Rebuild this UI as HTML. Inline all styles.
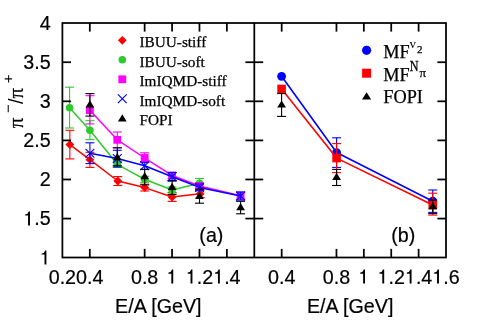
<!DOCTYPE html>
<html><head><meta charset="utf-8"><title>chart</title>
<style>html,body{margin:0;padding:0;background:#fff;}svg{display:block;will-change:transform;}text{fill:#000;}.sa{font-family:"Liberation Sans",sans-serif;stroke:#000;stroke-width:0.2px;}.se{font-family:"Liberation Serif",serif;stroke:#000;stroke-width:0.25px;}.pi{font-family:"Liberation Serif",serif;stroke:#000;stroke-width:0.25px;}.sv{font-family:"Liberation Serif",serif;}.sn{font-family:"Liberation Sans",sans-serif;}</style>
</head><body>
<svg width="478" height="320" viewBox="0 0 478 320">
<rect width="478" height="320" fill="#fff"/>
<path d="M69.85 144.60L89.90 159.70L117.80 181.00L144.70 187.60L172.10 197.00L200.20 193.80" stroke="#ff0000" stroke-width="1.5" fill="none" stroke-linejoin="round"/>
<line x1="69.85" y1="130.30" x2="69.85" y2="158.90" stroke="#ff0000" stroke-width="1.1" stroke-linecap="butt"/>
<line x1="65.35" y1="130.30" x2="74.35" y2="130.30" stroke="#ff0000" stroke-width="1.1" stroke-linecap="butt"/>
<line x1="65.35" y1="158.90" x2="74.35" y2="158.90" stroke="#ff0000" stroke-width="1.1" stroke-linecap="butt"/>
<line x1="89.90" y1="152.30" x2="89.90" y2="167.40" stroke="#ff0000" stroke-width="1.1" stroke-linecap="butt"/>
<line x1="85.40" y1="152.30" x2="94.40" y2="152.30" stroke="#ff0000" stroke-width="1.1" stroke-linecap="butt"/>
<line x1="85.40" y1="167.40" x2="94.40" y2="167.40" stroke="#ff0000" stroke-width="1.1" stroke-linecap="butt"/>
<line x1="117.80" y1="176.60" x2="117.80" y2="185.50" stroke="#ff0000" stroke-width="1.1" stroke-linecap="butt"/>
<line x1="113.30" y1="176.60" x2="122.30" y2="176.60" stroke="#ff0000" stroke-width="1.1" stroke-linecap="butt"/>
<line x1="113.30" y1="185.50" x2="122.30" y2="185.50" stroke="#ff0000" stroke-width="1.1" stroke-linecap="butt"/>
<line x1="144.70" y1="184.20" x2="144.70" y2="191.00" stroke="#ff0000" stroke-width="1.1" stroke-linecap="butt"/>
<line x1="140.20" y1="184.20" x2="149.20" y2="184.20" stroke="#ff0000" stroke-width="1.1" stroke-linecap="butt"/>
<line x1="140.20" y1="191.00" x2="149.20" y2="191.00" stroke="#ff0000" stroke-width="1.1" stroke-linecap="butt"/>
<line x1="172.10" y1="192.60" x2="172.10" y2="201.40" stroke="#ff0000" stroke-width="1.1" stroke-linecap="butt"/>
<line x1="167.60" y1="192.60" x2="176.60" y2="192.60" stroke="#ff0000" stroke-width="1.1" stroke-linecap="butt"/>
<line x1="167.60" y1="201.40" x2="176.60" y2="201.40" stroke="#ff0000" stroke-width="1.1" stroke-linecap="butt"/>
<line x1="200.20" y1="190.00" x2="200.20" y2="197.60" stroke="#ff0000" stroke-width="1.1" stroke-linecap="butt"/>
<line x1="195.70" y1="190.00" x2="204.70" y2="190.00" stroke="#ff0000" stroke-width="1.1" stroke-linecap="butt"/>
<line x1="195.70" y1="197.60" x2="204.70" y2="197.60" stroke="#ff0000" stroke-width="1.1" stroke-linecap="butt"/>
<path d="M69.85 140.20L74.25 144.60L69.85 149.00L65.45 144.60Z" fill="#ff0000"/>
<path d="M89.90 155.30L94.30 159.70L89.90 164.10L85.50 159.70Z" fill="#ff0000"/>
<path d="M117.80 176.60L122.20 181.00L117.80 185.40L113.40 181.00Z" fill="#ff0000"/>
<path d="M144.70 183.20L149.10 187.60L144.70 192.00L140.30 187.60Z" fill="#ff0000"/>
<path d="M172.10 192.60L176.50 197.00L172.10 201.40L167.70 197.00Z" fill="#ff0000"/>
<path d="M200.20 189.40L204.60 193.80L200.20 198.20L195.80 193.80Z" fill="#ff0000"/>
<path d="M69.55 107.80L89.90 130.20L117.30 164.30L144.70 179.30L172.10 190.00L199.50 183.20" stroke="#2dc92d" stroke-width="1.5" fill="none" stroke-linejoin="round"/>
<line x1="69.55" y1="87.20" x2="69.55" y2="128.00" stroke="#2dc92d" stroke-width="1.1" stroke-linecap="butt"/>
<line x1="65.05" y1="87.20" x2="74.05" y2="87.20" stroke="#2dc92d" stroke-width="1.1" stroke-linecap="butt"/>
<line x1="65.05" y1="128.00" x2="74.05" y2="128.00" stroke="#2dc92d" stroke-width="1.1" stroke-linecap="butt"/>
<line x1="89.90" y1="120.70" x2="89.90" y2="139.60" stroke="#2dc92d" stroke-width="1.1" stroke-linecap="butt"/>
<line x1="85.40" y1="120.70" x2="94.40" y2="120.70" stroke="#2dc92d" stroke-width="1.1" stroke-linecap="butt"/>
<line x1="85.40" y1="139.60" x2="94.40" y2="139.60" stroke="#2dc92d" stroke-width="1.1" stroke-linecap="butt"/>
<line x1="117.30" y1="161.30" x2="117.30" y2="167.30" stroke="#2dc92d" stroke-width="1.1" stroke-linecap="butt"/>
<line x1="112.80" y1="161.30" x2="121.80" y2="161.30" stroke="#2dc92d" stroke-width="1.1" stroke-linecap="butt"/>
<line x1="112.80" y1="167.30" x2="121.80" y2="167.30" stroke="#2dc92d" stroke-width="1.1" stroke-linecap="butt"/>
<line x1="144.70" y1="176.30" x2="144.70" y2="182.30" stroke="#2dc92d" stroke-width="1.1" stroke-linecap="butt"/>
<line x1="140.20" y1="176.30" x2="149.20" y2="176.30" stroke="#2dc92d" stroke-width="1.1" stroke-linecap="butt"/>
<line x1="140.20" y1="182.30" x2="149.20" y2="182.30" stroke="#2dc92d" stroke-width="1.1" stroke-linecap="butt"/>
<line x1="172.10" y1="187.00" x2="172.10" y2="193.00" stroke="#2dc92d" stroke-width="1.1" stroke-linecap="butt"/>
<line x1="167.60" y1="187.00" x2="176.60" y2="187.00" stroke="#2dc92d" stroke-width="1.1" stroke-linecap="butt"/>
<line x1="167.60" y1="193.00" x2="176.60" y2="193.00" stroke="#2dc92d" stroke-width="1.1" stroke-linecap="butt"/>
<line x1="199.50" y1="178.40" x2="199.50" y2="188.00" stroke="#2dc92d" stroke-width="1.1" stroke-linecap="butt"/>
<line x1="195.00" y1="178.40" x2="204.00" y2="178.40" stroke="#2dc92d" stroke-width="1.1" stroke-linecap="butt"/>
<line x1="195.00" y1="188.00" x2="204.00" y2="188.00" stroke="#2dc92d" stroke-width="1.1" stroke-linecap="butt"/>
<circle cx="69.55" cy="107.80" r="3.8" fill="#2dc92d"/>
<circle cx="89.90" cy="130.20" r="3.8" fill="#2dc92d"/>
<circle cx="117.30" cy="164.30" r="3.8" fill="#2dc92d"/>
<circle cx="144.70" cy="179.30" r="3.8" fill="#2dc92d"/>
<circle cx="172.10" cy="190.00" r="3.8" fill="#2dc92d"/>
<circle cx="199.50" cy="183.20" r="3.8" fill="#2dc92d"/>
<path d="M89.90 110.20L117.30 139.80L144.70 158.00L172.10 175.50L199.50 186.00L240.60 195.70" stroke="#ff00ff" stroke-width="1.5" fill="none" stroke-linejoin="round"/>
<line x1="89.90" y1="95.70" x2="89.90" y2="123.90" stroke="#ff00ff" stroke-width="1.1" stroke-linecap="butt"/>
<line x1="85.40" y1="95.70" x2="94.40" y2="95.70" stroke="#ff00ff" stroke-width="1.1" stroke-linecap="butt"/>
<line x1="85.40" y1="123.90" x2="94.40" y2="123.90" stroke="#ff00ff" stroke-width="1.1" stroke-linecap="butt"/>
<line x1="117.30" y1="132.00" x2="117.30" y2="147.80" stroke="#ff00ff" stroke-width="1.1" stroke-linecap="butt"/>
<line x1="112.80" y1="132.00" x2="121.80" y2="132.00" stroke="#ff00ff" stroke-width="1.1" stroke-linecap="butt"/>
<line x1="112.80" y1="147.80" x2="121.80" y2="147.80" stroke="#ff00ff" stroke-width="1.1" stroke-linecap="butt"/>
<line x1="144.70" y1="152.80" x2="144.70" y2="162.50" stroke="#ff00ff" stroke-width="1.1" stroke-linecap="butt"/>
<line x1="140.20" y1="152.80" x2="149.20" y2="152.80" stroke="#ff00ff" stroke-width="1.1" stroke-linecap="butt"/>
<line x1="140.20" y1="162.50" x2="149.20" y2="162.50" stroke="#ff00ff" stroke-width="1.1" stroke-linecap="butt"/>
<line x1="172.10" y1="172.50" x2="172.10" y2="178.50" stroke="#ff00ff" stroke-width="1.1" stroke-linecap="butt"/>
<line x1="167.60" y1="172.50" x2="176.60" y2="172.50" stroke="#ff00ff" stroke-width="1.1" stroke-linecap="butt"/>
<line x1="167.60" y1="178.50" x2="176.60" y2="178.50" stroke="#ff00ff" stroke-width="1.1" stroke-linecap="butt"/>
<line x1="199.50" y1="183.00" x2="199.50" y2="189.00" stroke="#ff00ff" stroke-width="1.1" stroke-linecap="butt"/>
<line x1="195.00" y1="183.00" x2="204.00" y2="183.00" stroke="#ff00ff" stroke-width="1.1" stroke-linecap="butt"/>
<line x1="195.00" y1="189.00" x2="204.00" y2="189.00" stroke="#ff00ff" stroke-width="1.1" stroke-linecap="butt"/>
<line x1="240.60" y1="192.20" x2="240.60" y2="199.20" stroke="#ff00ff" stroke-width="1.1" stroke-linecap="butt"/>
<line x1="236.10" y1="192.20" x2="245.10" y2="192.20" stroke="#ff00ff" stroke-width="1.1" stroke-linecap="butt"/>
<line x1="236.10" y1="199.20" x2="245.10" y2="199.20" stroke="#ff00ff" stroke-width="1.1" stroke-linecap="butt"/>
<rect x="86.00" y="106.30" width="7.80" height="7.80" fill="#ff00ff"/>
<rect x="113.40" y="135.90" width="7.80" height="7.80" fill="#ff00ff"/>
<rect x="140.80" y="154.10" width="7.80" height="7.80" fill="#ff00ff"/>
<rect x="168.20" y="171.60" width="7.80" height="7.80" fill="#ff00ff"/>
<rect x="195.60" y="182.10" width="7.80" height="7.80" fill="#ff00ff"/>
<rect x="236.70" y="191.80" width="7.80" height="7.80" fill="#ff00ff"/>
<path d="M89.90 153.30L117.30 158.60L144.70 165.70L172.10 176.80L199.50 187.40L240.60 196.00" stroke="#0000ff" stroke-width="1.5" fill="none" stroke-linejoin="round"/>
<line x1="89.90" y1="142.80" x2="89.90" y2="163.60" stroke="#0000ff" stroke-width="1.1" stroke-linecap="butt"/>
<line x1="85.40" y1="142.80" x2="94.40" y2="142.80" stroke="#0000ff" stroke-width="1.1" stroke-linecap="butt"/>
<line x1="85.40" y1="163.60" x2="94.40" y2="163.60" stroke="#0000ff" stroke-width="1.1" stroke-linecap="butt"/>
<line x1="117.30" y1="150.30" x2="117.30" y2="167.00" stroke="#0000ff" stroke-width="1.1" stroke-linecap="butt"/>
<line x1="112.80" y1="150.30" x2="121.80" y2="150.30" stroke="#0000ff" stroke-width="1.1" stroke-linecap="butt"/>
<line x1="112.80" y1="167.00" x2="121.80" y2="167.00" stroke="#0000ff" stroke-width="1.1" stroke-linecap="butt"/>
<line x1="144.70" y1="162.30" x2="144.70" y2="169.50" stroke="#0000ff" stroke-width="1.1" stroke-linecap="butt"/>
<line x1="140.20" y1="162.30" x2="149.20" y2="162.30" stroke="#0000ff" stroke-width="1.1" stroke-linecap="butt"/>
<line x1="140.20" y1="169.50" x2="149.20" y2="169.50" stroke="#0000ff" stroke-width="1.1" stroke-linecap="butt"/>
<line x1="172.10" y1="172.50" x2="172.10" y2="181.20" stroke="#0000ff" stroke-width="1.1" stroke-linecap="butt"/>
<line x1="167.60" y1="172.50" x2="176.60" y2="172.50" stroke="#0000ff" stroke-width="1.1" stroke-linecap="butt"/>
<line x1="167.60" y1="181.20" x2="176.60" y2="181.20" stroke="#0000ff" stroke-width="1.1" stroke-linecap="butt"/>
<line x1="199.50" y1="184.00" x2="199.50" y2="190.80" stroke="#0000ff" stroke-width="1.1" stroke-linecap="butt"/>
<line x1="195.00" y1="184.00" x2="204.00" y2="184.00" stroke="#0000ff" stroke-width="1.1" stroke-linecap="butt"/>
<line x1="195.00" y1="190.80" x2="204.00" y2="190.80" stroke="#0000ff" stroke-width="1.1" stroke-linecap="butt"/>
<line x1="240.60" y1="192.00" x2="240.60" y2="200.10" stroke="#0000ff" stroke-width="1.1" stroke-linecap="butt"/>
<line x1="236.10" y1="192.00" x2="245.10" y2="192.00" stroke="#0000ff" stroke-width="1.1" stroke-linecap="butt"/>
<line x1="236.10" y1="200.10" x2="245.10" y2="200.10" stroke="#0000ff" stroke-width="1.1" stroke-linecap="butt"/>
<path d="M85.50 148.90L94.30 157.70M85.50 157.70L94.30 148.90" stroke="#0000ff" stroke-width="1.15" fill="none"/>
<path d="M112.90 154.20L121.70 163.00M112.90 163.00L121.70 154.20" stroke="#0000ff" stroke-width="1.15" fill="none"/>
<path d="M140.30 161.30L149.10 170.10M140.30 170.10L149.10 161.30" stroke="#0000ff" stroke-width="1.15" fill="none"/>
<path d="M167.70 172.40L176.50 181.20M167.70 181.20L176.50 172.40" stroke="#0000ff" stroke-width="1.15" fill="none"/>
<path d="M195.10 183.00L203.90 191.80M195.10 191.80L203.90 183.00" stroke="#0000ff" stroke-width="1.15" fill="none"/>
<path d="M236.20 191.60L245.00 200.40M236.20 200.40L245.00 191.60" stroke="#0000ff" stroke-width="1.15" fill="none"/>
<line x1="89.90" y1="93.60" x2="89.90" y2="116.10" stroke="#000000" stroke-width="1.1" stroke-linecap="butt"/>
<line x1="85.40" y1="93.60" x2="94.40" y2="93.60" stroke="#000000" stroke-width="1.1" stroke-linecap="butt"/>
<line x1="85.40" y1="116.10" x2="94.40" y2="116.10" stroke="#000000" stroke-width="1.1" stroke-linecap="butt"/>
<line x1="117.30" y1="147.80" x2="117.30" y2="165.70" stroke="#000000" stroke-width="1.1" stroke-linecap="butt"/>
<line x1="112.80" y1="147.80" x2="121.80" y2="147.80" stroke="#000000" stroke-width="1.1" stroke-linecap="butt"/>
<line x1="112.80" y1="165.70" x2="121.80" y2="165.70" stroke="#000000" stroke-width="1.1" stroke-linecap="butt"/>
<line x1="144.70" y1="169.30" x2="144.70" y2="184.90" stroke="#000000" stroke-width="1.1" stroke-linecap="butt"/>
<line x1="140.20" y1="169.30" x2="149.20" y2="169.30" stroke="#000000" stroke-width="1.1" stroke-linecap="butt"/>
<line x1="140.20" y1="184.90" x2="149.20" y2="184.90" stroke="#000000" stroke-width="1.1" stroke-linecap="butt"/>
<line x1="172.10" y1="180.40" x2="172.10" y2="194.50" stroke="#000000" stroke-width="1.1" stroke-linecap="butt"/>
<line x1="167.60" y1="180.40" x2="176.60" y2="180.40" stroke="#000000" stroke-width="1.1" stroke-linecap="butt"/>
<line x1="167.60" y1="194.50" x2="176.60" y2="194.50" stroke="#000000" stroke-width="1.1" stroke-linecap="butt"/>
<line x1="199.50" y1="189.20" x2="199.50" y2="203.20" stroke="#000000" stroke-width="1.1" stroke-linecap="butt"/>
<line x1="195.00" y1="189.20" x2="204.00" y2="189.20" stroke="#000000" stroke-width="1.1" stroke-linecap="butt"/>
<line x1="195.00" y1="203.20" x2="204.00" y2="203.20" stroke="#000000" stroke-width="1.1" stroke-linecap="butt"/>
<line x1="240.60" y1="201.30" x2="240.60" y2="213.80" stroke="#000000" stroke-width="1.1" stroke-linecap="butt"/>
<line x1="236.10" y1="201.30" x2="245.10" y2="201.30" stroke="#000000" stroke-width="1.1" stroke-linecap="butt"/>
<line x1="236.10" y1="213.80" x2="245.10" y2="213.80" stroke="#000000" stroke-width="1.1" stroke-linecap="butt"/>
<path d="M89.90 100.25L94.25 107.55L85.55 107.55Z" fill="#000000"/>
<path d="M117.30 153.00L121.65 160.30L112.95 160.30Z" fill="#000000"/>
<path d="M144.70 172.00L149.05 179.30L140.35 179.30Z" fill="#000000"/>
<path d="M172.10 182.80L176.45 190.10L167.75 190.10Z" fill="#000000"/>
<path d="M199.50 191.60L203.85 198.90L195.15 198.90Z" fill="#000000"/>
<path d="M240.60 202.90L244.95 210.20L236.25 210.20Z" fill="#000000"/>
<path d="M281.60 76.30L336.60 152.55L432.75 201.20" stroke="#0000ff" stroke-width="1.6" fill="none" stroke-linejoin="round"/>
<line x1="336.60" y1="137.80" x2="336.60" y2="167.40" stroke="#0000ff" stroke-width="1.1" stroke-linecap="butt"/>
<line x1="332.10" y1="137.80" x2="341.10" y2="137.80" stroke="#0000ff" stroke-width="1.1" stroke-linecap="butt"/>
<line x1="332.10" y1="167.40" x2="341.10" y2="167.40" stroke="#0000ff" stroke-width="1.1" stroke-linecap="butt"/>
<line x1="432.75" y1="190.00" x2="432.75" y2="212.40" stroke="#0000ff" stroke-width="1.1" stroke-linecap="butt"/>
<line x1="428.25" y1="190.00" x2="437.25" y2="190.00" stroke="#0000ff" stroke-width="1.1" stroke-linecap="butt"/>
<line x1="428.25" y1="212.40" x2="437.25" y2="212.40" stroke="#0000ff" stroke-width="1.1" stroke-linecap="butt"/>
<circle cx="281.60" cy="76.30" r="4.4" fill="#0000ff"/>
<circle cx="336.60" cy="152.55" r="4.4" fill="#0000ff"/>
<circle cx="432.75" cy="201.20" r="4.4" fill="#0000ff"/>
<path d="M281.60 89.00L336.60 158.10L432.75 205.00" stroke="#ff0000" stroke-width="1.6" fill="none" stroke-linejoin="round"/>
<line x1="336.60" y1="143.60" x2="336.60" y2="172.60" stroke="#ff0000" stroke-width="1.1" stroke-linecap="butt"/>
<line x1="332.10" y1="143.60" x2="341.10" y2="143.60" stroke="#ff0000" stroke-width="1.1" stroke-linecap="butt"/>
<line x1="332.10" y1="172.60" x2="341.10" y2="172.60" stroke="#ff0000" stroke-width="1.1" stroke-linecap="butt"/>
<line x1="432.75" y1="193.20" x2="432.75" y2="215.10" stroke="#ff0000" stroke-width="1.1" stroke-linecap="butt"/>
<line x1="428.25" y1="193.20" x2="437.25" y2="193.20" stroke="#ff0000" stroke-width="1.1" stroke-linecap="butt"/>
<line x1="428.25" y1="215.10" x2="437.25" y2="215.10" stroke="#ff0000" stroke-width="1.1" stroke-linecap="butt"/>
<rect x="277.30" y="84.70" width="8.60" height="8.60" fill="#ff0000"/>
<rect x="332.30" y="153.80" width="8.60" height="8.60" fill="#ff0000"/>
<rect x="428.45" y="200.70" width="8.60" height="8.60" fill="#ff0000"/>
<line x1="281.60" y1="93.50" x2="281.60" y2="116.40" stroke="#000000" stroke-width="1.1" stroke-linecap="butt"/>
<line x1="277.10" y1="93.50" x2="286.10" y2="93.50" stroke="#000000" stroke-width="1.1" stroke-linecap="butt"/>
<line x1="277.10" y1="116.40" x2="286.10" y2="116.40" stroke="#000000" stroke-width="1.1" stroke-linecap="butt"/>
<line x1="336.60" y1="169.40" x2="336.60" y2="185.50" stroke="#000000" stroke-width="1.1" stroke-linecap="butt"/>
<line x1="332.10" y1="169.40" x2="341.10" y2="169.40" stroke="#000000" stroke-width="1.1" stroke-linecap="butt"/>
<line x1="332.10" y1="185.50" x2="341.10" y2="185.50" stroke="#000000" stroke-width="1.1" stroke-linecap="butt"/>
<line x1="432.75" y1="200.00" x2="432.75" y2="213.60" stroke="#000000" stroke-width="1.1" stroke-linecap="butt"/>
<line x1="428.25" y1="200.00" x2="437.25" y2="200.00" stroke="#000000" stroke-width="1.1" stroke-linecap="butt"/>
<line x1="428.25" y1="213.60" x2="437.25" y2="213.60" stroke="#000000" stroke-width="1.1" stroke-linecap="butt"/>
<path d="M281.60 100.40L286.00 107.50L277.20 107.50Z" fill="#000000"/>
<path d="M336.60 172.85L341.00 179.95L332.20 179.95Z" fill="#000000"/>
<path d="M432.75 202.20L437.15 209.30L428.35 209.30Z" fill="#000000"/>
<rect x="62.4" y="23.0" width="383.6" height="234.5" fill="none" stroke="#000" stroke-width="1.75"/>
<line x1="254.30" y1="23.00" x2="254.30" y2="257.50" stroke="#000000" stroke-width="1.75" stroke-linecap="butt"/>
<line x1="62.40" y1="218.57" x2="71.00" y2="218.57" stroke="#000000" stroke-width="1.75" stroke-linecap="butt"/>
<line x1="245.40" y1="218.57" x2="263.20" y2="218.57" stroke="#000000" stroke-width="1.75" stroke-linecap="butt"/>
<line x1="437.40" y1="218.57" x2="446.00" y2="218.57" stroke="#000000" stroke-width="1.75" stroke-linecap="butt"/>
<line x1="62.40" y1="179.48" x2="71.00" y2="179.48" stroke="#000000" stroke-width="1.75" stroke-linecap="butt"/>
<line x1="245.40" y1="179.48" x2="263.20" y2="179.48" stroke="#000000" stroke-width="1.75" stroke-linecap="butt"/>
<line x1="437.40" y1="179.48" x2="446.00" y2="179.48" stroke="#000000" stroke-width="1.75" stroke-linecap="butt"/>
<line x1="62.40" y1="140.40" x2="71.00" y2="140.40" stroke="#000000" stroke-width="1.75" stroke-linecap="butt"/>
<line x1="245.40" y1="140.40" x2="263.20" y2="140.40" stroke="#000000" stroke-width="1.75" stroke-linecap="butt"/>
<line x1="437.40" y1="140.40" x2="446.00" y2="140.40" stroke="#000000" stroke-width="1.75" stroke-linecap="butt"/>
<line x1="62.40" y1="101.32" x2="71.00" y2="101.32" stroke="#000000" stroke-width="1.75" stroke-linecap="butt"/>
<line x1="245.40" y1="101.32" x2="263.20" y2="101.32" stroke="#000000" stroke-width="1.75" stroke-linecap="butt"/>
<line x1="437.40" y1="101.32" x2="446.00" y2="101.32" stroke="#000000" stroke-width="1.75" stroke-linecap="butt"/>
<line x1="62.40" y1="62.23" x2="71.00" y2="62.23" stroke="#000000" stroke-width="1.75" stroke-linecap="butt"/>
<line x1="245.40" y1="62.23" x2="263.20" y2="62.23" stroke="#000000" stroke-width="1.75" stroke-linecap="butt"/>
<line x1="437.40" y1="62.23" x2="446.00" y2="62.23" stroke="#000000" stroke-width="1.75" stroke-linecap="butt"/>
<line x1="89.81" y1="257.50" x2="89.81" y2="248.90" stroke="#000000" stroke-width="1.75" stroke-linecap="butt"/>
<line x1="89.81" y1="23.00" x2="89.81" y2="31.60" stroke="#000000" stroke-width="1.75" stroke-linecap="butt"/>
<line x1="281.69" y1="257.50" x2="281.69" y2="248.90" stroke="#000000" stroke-width="1.75" stroke-linecap="butt"/>
<line x1="281.69" y1="23.00" x2="281.69" y2="31.60" stroke="#000000" stroke-width="1.75" stroke-linecap="butt"/>
<line x1="144.64" y1="257.50" x2="144.64" y2="248.90" stroke="#000000" stroke-width="1.75" stroke-linecap="butt"/>
<line x1="144.64" y1="23.00" x2="144.64" y2="31.60" stroke="#000000" stroke-width="1.75" stroke-linecap="butt"/>
<line x1="336.46" y1="257.50" x2="336.46" y2="248.90" stroke="#000000" stroke-width="1.75" stroke-linecap="butt"/>
<line x1="336.46" y1="23.00" x2="336.46" y2="31.60" stroke="#000000" stroke-width="1.75" stroke-linecap="butt"/>
<line x1="172.06" y1="257.50" x2="172.06" y2="248.90" stroke="#000000" stroke-width="1.75" stroke-linecap="butt"/>
<line x1="172.06" y1="23.00" x2="172.06" y2="31.60" stroke="#000000" stroke-width="1.75" stroke-linecap="butt"/>
<line x1="363.84" y1="257.50" x2="363.84" y2="248.90" stroke="#000000" stroke-width="1.75" stroke-linecap="butt"/>
<line x1="363.84" y1="23.00" x2="363.84" y2="31.60" stroke="#000000" stroke-width="1.75" stroke-linecap="butt"/>
<line x1="199.47" y1="257.50" x2="199.47" y2="248.90" stroke="#000000" stroke-width="1.75" stroke-linecap="butt"/>
<line x1="199.47" y1="23.00" x2="199.47" y2="31.60" stroke="#000000" stroke-width="1.75" stroke-linecap="butt"/>
<line x1="391.23" y1="257.50" x2="391.23" y2="248.90" stroke="#000000" stroke-width="1.75" stroke-linecap="butt"/>
<line x1="391.23" y1="23.00" x2="391.23" y2="31.60" stroke="#000000" stroke-width="1.75" stroke-linecap="butt"/>
<line x1="226.89" y1="257.50" x2="226.89" y2="248.90" stroke="#000000" stroke-width="1.75" stroke-linecap="butt"/>
<line x1="226.89" y1="23.00" x2="226.89" y2="31.60" stroke="#000000" stroke-width="1.75" stroke-linecap="butt"/>
<line x1="418.61" y1="257.50" x2="418.61" y2="248.90" stroke="#000000" stroke-width="1.75" stroke-linecap="butt"/>
<line x1="418.61" y1="23.00" x2="418.61" y2="31.60" stroke="#000000" stroke-width="1.75" stroke-linecap="butt"/>
<path d="M44.50 264.50V254.60H41.65V253.40Q44.65 253.10 45.20 250.50H46.40V264.50Z" fill="#000"/>
<path d="M28.07 225.42V215.52H25.22V214.32Q28.22 214.02 28.77 211.42H29.97V225.42Z" fill="#000"/>
<text x="34.27" y="225.42" class="sa" font-size="19.7">.5</text>
<text x="39.75" y="186.33" class="sa" font-size="19.7">2</text>
<text x="23.32" y="147.25" class="sa" font-size="19.7">2.5</text>
<text x="39.75" y="108.17" class="sa" font-size="19.7">3</text>
<text x="23.32" y="69.08" class="sa" font-size="19.7">3.5</text>
<text x="39.75" y="30.00" class="sa" font-size="19.7">4</text>
<text x="48.71" y="283.60" class="sa" font-size="19.7">0.2</text>
<text x="76.12" y="283.60" class="sa" font-size="19.7">0.4</text>
<text x="130.95" y="283.60" class="sa" font-size="19.7">0.8</text>
<path d="M171.33 283.60V273.70H168.48V272.50Q171.48 272.20 172.03 269.60H173.23V283.60Z" fill="#000"/>
<path d="M190.53 283.60V273.70H187.68V272.50Q190.68 272.20 191.23 269.60H192.43V283.60Z" fill="#000"/>
<text x="196.73" y="283.60" class="sa" font-size="19.7">.2</text>
<path d="M217.94 283.60V273.70H215.09V272.50Q218.09 272.20 218.64 269.60H219.84V283.60Z" fill="#000"/>
<text x="224.15" y="283.60" class="sa" font-size="19.7">.4</text>
<text x="267.99" y="283.60" class="sa" font-size="19.7">0.4</text>
<text x="322.77" y="283.60" class="sa" font-size="19.7">0.8</text>
<path d="M363.12 283.60V273.70H360.27V272.50Q363.27 272.20 363.82 269.60H365.02V283.60Z" fill="#000"/>
<path d="M382.29 283.60V273.70H379.44V272.50Q382.44 272.20 382.99 269.60H384.19V283.60Z" fill="#000"/>
<text x="388.49" y="283.60" class="sa" font-size="19.7">.2</text>
<path d="M409.67 283.60V273.70H406.82V272.50Q409.82 272.20 410.37 269.60H411.57V283.60Z" fill="#000"/>
<text x="415.88" y="283.60" class="sa" font-size="19.7">.4</text>
<path d="M437.06 283.60V273.70H434.21V272.50Q437.21 272.20 437.76 269.60H438.96V283.60Z" fill="#000"/>
<text x="443.26" y="283.60" class="sa" font-size="19.7">.6</text>
<text x="158.35" y="312.6" class="sa" font-size="19.7" text-anchor="middle">E/A [GeV]</text>
<text x="350.15" y="312.6" class="sa" font-size="19.7" text-anchor="middle">E/A [GeV]</text>
<text x="211.4" y="241.5" class="sa" font-size="19.7" text-anchor="middle">(a)</text>
<text x="403.3" y="241.5" class="sa" font-size="19.7" text-anchor="middle">(b)</text>
<g transform="translate(23,126.5) rotate(-90)"><text x="-1.7" y="0" class="pi" font-size="21">π</text><text x="13.6" y="-10.2" class="sn" font-size="15">−</text><text x="22.5" y="0" class="sn" font-size="19.7">/</text><text x="28.1" y="0" class="pi" font-size="21">π</text><text x="43.3" y="-10.4" class="sn" font-size="15">+</text></g>
<path d="M122.30 35.90L126.70 40.30L122.30 44.70L117.90 40.30Z" fill="#ff0000"/>
<circle cx="122.30" cy="59.80" r="3.8" fill="#2dc92d"/>
<rect x="118.40" y="75.40" width="7.80" height="7.80" fill="#ff00ff"/>
<path d="M117.90 94.40L126.70 103.20M117.90 103.20L126.70 94.40" stroke="#0000ff" stroke-width="1.15" fill="none"/>
<path d="M122.30 114.30L126.65 121.60L117.95 121.60Z" fill="#000000"/>
<text x="139.4" y="47.30" class="se" font-size="15.3">IBUU-stiff</text>
<text x="139.4" y="66.80" class="se" font-size="15.3">IBUU-soft</text>
<text x="139.4" y="86.30" class="se" font-size="15.3">ImIQMD-stiff</text>
<text x="139.4" y="105.80" class="se" font-size="15.3">ImIQMD-soft</text>
<text x="139.4" y="125.30" class="se" font-size="15.3">FOPI</text>
<circle cx="366.60" cy="50.30" r="4.6" fill="#0000ff"/>
<rect x="362.10" y="68.70" width="9.00" height="9.00" fill="#ff0000"/>
<path d="M366.60 92.20L371.20 99.40L362.00 99.40Z" fill="#000000"/>
<text x="383.3" y="57.60" class="se" font-size="18.3">MF</text>
<text x="409.6" y="48.4" class="sv" font-size="13">v</text>
<text x="416.9" y="52.9" class="se" font-size="11">2</text>
<text x="383.3" y="80.90" class="se" font-size="18.3">MF</text>
<text transform="translate(409.7,71.3) scale(0.86,1)" class="se" font-size="14.2">N</text>
<text x="419.4" y="76.9" class="se" font-size="13">π</text>
<text x="383.3" y="103.10" class="se" font-size="18.3">FOPI</text>
</svg>
</body></html>
